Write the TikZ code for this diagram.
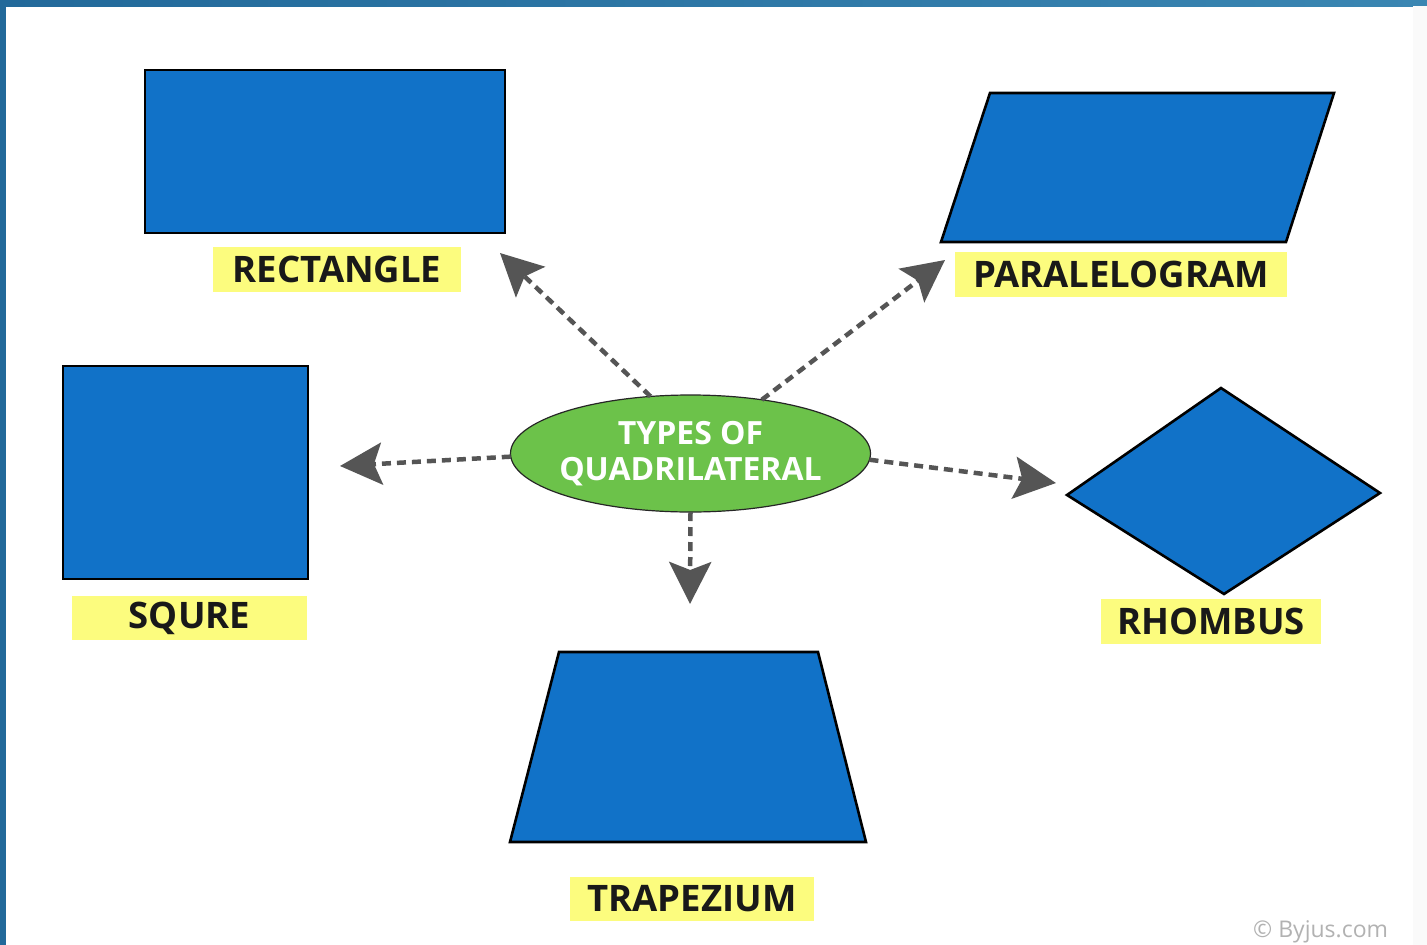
\documentclass[tikz,border=0pt]{standalone}
\usepackage{fontspec}
\setmainfont{Open Sans}
\usetikzlibrary{arrows.meta,shapes.geometric}
\definecolor{shapeblue}{HTML}{1172C8}
\definecolor{labelyellow}{HTML}{FCFC7E}
\definecolor{ovalgreen}{HTML}{6CC24A}
\definecolor{arrowgray}{HTML}{555555}
\definecolor{frameblue}{HTML}{22699A}
\definecolor{frameblue2}{HTML}{3A86B2}
\tikzset{
  quad/.style={draw=black, line width=2.6pt, fill=shapeblue, line join=miter},
  tag/.style={fill=labelyellow, inner sep=0pt, font=\fontsize{36.5}{40}\selectfont\bfseries, text=black!90},
  link/.style={draw=arrowgray, line width=4.5pt, dash pattern=on 9pt off 6pt,
    -{Stealth[length=42pt,width=42pt,inset=8pt]}}
}
\begin{document}
\begin{tikzpicture}[x=1pt,y=-1pt]
\useasboundingbox (0,0) rectangle (1427,945);
\fill[white] (0,0) rectangle (1427,945);
\shade[left color=frameblue, right color=frameblue2] (0,0) rectangle (1427,6);
\fill[frameblue] (0,0) rectangle (6,945);
\fill[black!2] (1413,6) rectangle (1427,945);
% shapes
\draw[quad] (145,70) rectangle (505,233);
\draw[quad] (990,93) -- (1334,93) -- (1286,242) -- (941,242) -- cycle;
\draw[quad] (63,366) rectangle (308,579);
\draw[quad] (1221,388) -- (1380,493) -- (1224,594) -- (1067,495) -- cycle;
\draw[quad] (559,652) -- (818,652) -- (866,842) -- (510,842) -- cycle;
% labels
\node[tag, minimum width=248pt, minimum height=45pt] (lrect) at (337,269.5) {RECTANGLE};
\node[tag, minimum width=332pt, minimum height=45pt] (lpar) at (1121,274.5) {PARALELOGRAM};
\node[tag, minimum width=235pt, minimum height=44pt] (lsq) at (189.5,618) {SQURE};
\node[tag, minimum width=220pt, minimum height=45pt] (lrh) at (1211,621.5) {RHOMBUS};
\node[tag, minimum width=244pt, minimum height=44pt] (ltr) at (692,899) {TRAPEZIUM};
% centre
\node[ellipse, draw=black!85, line width=1.2pt, fill=ovalgreen, minimum width=360pt, minimum height=117pt,
  inner xsep=-6pt, inner ysep=0pt, outer sep=0pt, text=white, align=center,
  font=\fontsize{32}{36}\selectfont\bfseries] (q) at (690.5,453.5) {TYPES OF\\QUADRILATERAL};
% arrow ends
\coordinate (trect) at (500,253);
\coordinate (tpar) at (945,260);
\coordinate (tsq) at (340,466);
\coordinate (trh) at (1056,483);
\coordinate (ttr) at (690,604);
\draw[link] (q.125.8) -- (trect);
\draw[link] (q.37.7) -- (tpar);
\draw[link] (q.181.5) -- (tsq);
\draw[link] (q.-2.2) -- (trh);
\draw[link] (q.270) -- (ttr);
\node[anchor=base west, text=black!30, font=\fontsize{23}{26}\selectfont, inner sep=0pt] (copy) at (1253,937) {© Byjus.com};
\end{tikzpicture}
\end{document}
